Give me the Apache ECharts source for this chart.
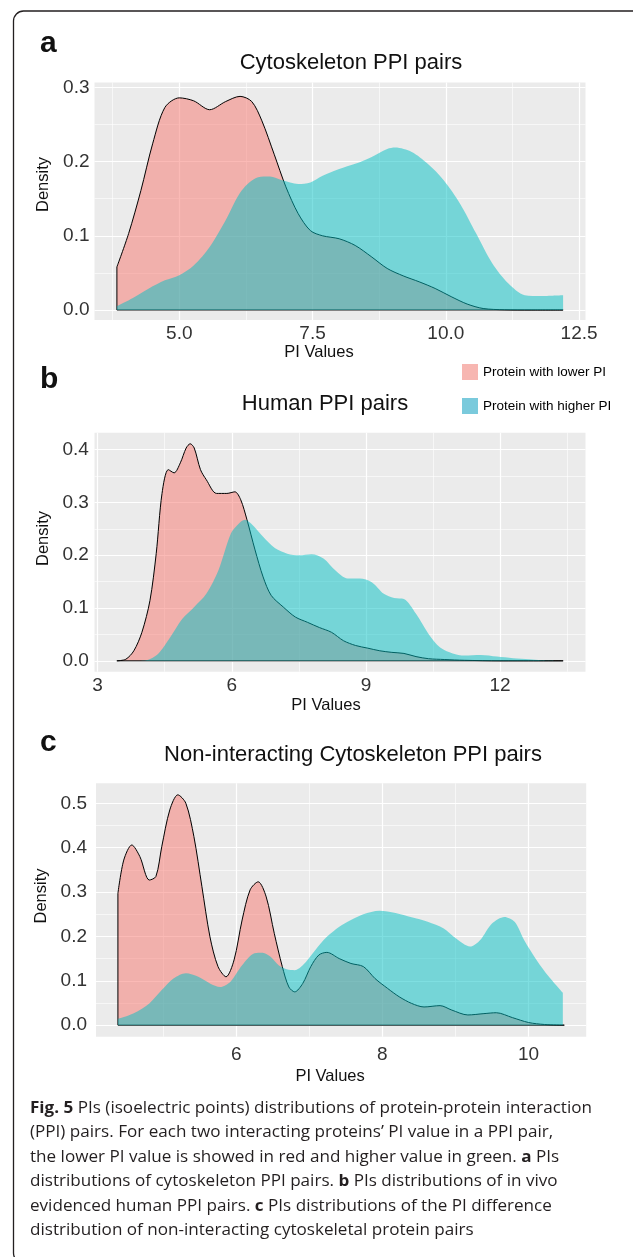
<!DOCTYPE html>
<html>
<head>
<meta charset="utf-8">
<script src="https://cdn.jsdelivr.net/npm/echarts@6/dist/echarts.min.js"></script>
<style>
html,body{margin:0;padding:0;background:#fff;}
#chart{width:633px;height:1257px;}
</style>
</head>
<body>
<div id="chart"></div>
<script>
// ---------- Panel a: Cytoskeleton PPI pairs ----------
const aLowX  = [3.83, 4.05, 4.28, 4.5, 4.73, 5.0, 5.27, 5.57, 5.87, 6.14, 6.36, 6.55, 6.78, 7.0, 7.23, 7.46, 7.69, 8.0, 8.3, 8.6, 8.9, 9.2, 9.5, 9.8, 10.1, 10.4, 10.7, 11.1, 11.6, 12.2];
const aLowY  = [0.058, 0.103, 0.161, 0.224, 0.273, 0.286, 0.282, 0.270, 0.281, 0.288, 0.281, 0.255, 0.21, 0.166, 0.13, 0.107, 0.10, 0.096, 0.087, 0.072, 0.056, 0.046, 0.038, 0.029, 0.018, 0.008, 0.002, 0.0003, 0, 0];
const aHighX = [3.83, 4.13, 4.43, 4.73, 5.0, 5.27, 5.57, 5.87, 6.17, 6.48, 6.7, 6.93, 7.23, 7.46, 7.69, 8.0, 8.3, 8.6, 8.9, 9.05, 9.36, 9.66, 9.96, 10.27, 10.57, 10.87, 11.17, 11.48, 11.78, 12.2];
const aHighY = [0.005, 0.016, 0.029, 0.04, 0.047, 0.06, 0.085, 0.121, 0.161, 0.179, 0.180, 0.175, 0.17, 0.172, 0.181, 0.19, 0.197, 0.206, 0.217, 0.219, 0.213, 0.197, 0.175, 0.143, 0.103, 0.063, 0.036, 0.02, 0.019, 0.02];
const aXTicks = [5.0, 7.5, 10.0, 12.5];
const aXMinor = [3.75, 6.25, 8.75, 11.25];
const aYTicks = [0, 0.1, 0.2, 0.3];
const aYMinor = [0.05, 0.15, 0.25];

// ---------- Panel b: Human PPI pairs ----------
const bLowX  = [3.43, 3.63, 3.81, 3.99, 4.17, 4.31, 4.44, 4.58, 4.71, 4.85, 4.98, 5.07, 5.16, 5.3, 5.43, 5.66, 5.89, 6.07, 6.2, 6.34, 6.52, 6.7, 6.88, 7.15, 7.42, 7.69, 7.96, 8.23, 8.5, 8.77, 9.04, 9.31, 9.58, 9.85, 10.12, 10.4, 10.75, 11.2, 12.0, 13.41];
const bLowY  = [0, 0.003, 0.019, 0.054, 0.114, 0.203, 0.317, 0.362, 0.356, 0.375, 0.403, 0.411, 0.403, 0.362, 0.343, 0.317, 0.317, 0.32, 0.305, 0.267, 0.21, 0.159, 0.124, 0.102, 0.083, 0.073, 0.063, 0.054, 0.038, 0.029, 0.024, 0.019, 0.016, 0.014, 0.008, 0.004, 0.0025, 0.001, 0, 0];
const bHighX = [3.81, 4.08, 4.35, 4.62, 4.89, 5.16, 5.43, 5.7, 5.98, 6.16, 6.29, 6.43, 6.7, 6.97, 7.24, 7.51, 7.78, 8.05, 8.32, 8.59, 8.86, 9.13, 9.4, 9.63, 9.85, 10.12, 10.4, 10.66, 10.94, 11.2, 11.57, 11.93, 12.29, 12.65, 12.92, 13.41];
const bHighY = [0, 0.001, 0.013, 0.044, 0.079, 0.102, 0.127, 0.171, 0.241, 0.26, 0.267, 0.26, 0.235, 0.213, 0.203, 0.2, 0.202, 0.194, 0.171, 0.156, 0.156, 0.149, 0.127, 0.119, 0.117, 0.089, 0.051, 0.025, 0.014, 0.01, 0.011, 0.008, 0.005, 0.003, 0.001, 0];
const bXTicks = [3, 6, 9, 12];
const bXMinor = [4.5, 7.5, 10.5, 13.5];
const bYTicks = [0, 0.1, 0.2, 0.3, 0.4];
const bYMinor = [0.05, 0.15, 0.25, 0.35];

// ---------- Panel c: Non-interacting Cytoskeleton PPI pairs ----------
const cLowX  = [4.38, 4.46, 4.57, 4.68, 4.81, 4.9, 4.98, 5.09, 5.2, 5.31, 5.42, 5.53, 5.64, 5.75, 5.86, 5.97, 6.08, 6.19, 6.3, 6.41, 6.52, 6.63, 6.72, 6.8, 6.91, 7.02, 7.13, 7.24, 7.41, 7.57, 7.74, 7.9, 8.07, 8.23, 8.4, 8.57, 8.79, 8.95, 9.17, 9.39, 9.56, 9.78, 10.0, 10.22, 10.49];
const cLowY  = [0.297, 0.372, 0.406, 0.38, 0.327, 0.335, 0.402, 0.485, 0.519, 0.5, 0.425, 0.312, 0.199, 0.132, 0.109, 0.147, 0.237, 0.305, 0.323, 0.289, 0.207, 0.132, 0.086, 0.075, 0.094, 0.132, 0.158, 0.164, 0.15, 0.139, 0.132, 0.105, 0.083, 0.064, 0.049, 0.041, 0.044, 0.034, 0.023, 0.026, 0.028, 0.017, 0.006, 0.0015, 0];
const cHighX = [4.38, 4.59, 4.81, 4.98, 5.14, 5.31, 5.48, 5.64, 5.78, 5.92, 6.08, 6.25, 6.36, 6.47, 6.58, 6.69, 6.8, 6.91, 7.08, 7.24, 7.41, 7.57, 7.74, 7.96, 8.18, 8.4, 8.62, 8.84, 9.01, 9.2, 9.34, 9.5, 9.67, 9.81, 9.94, 10.11, 10.28, 10.47];
const cHighY = [0.014, 0.026, 0.049, 0.079, 0.105, 0.117, 0.109, 0.094, 0.086, 0.098, 0.135, 0.162, 0.163, 0.154, 0.135, 0.126, 0.124, 0.135, 0.169, 0.199, 0.222, 0.237, 0.25, 0.258, 0.253, 0.243, 0.233, 0.218, 0.195, 0.177, 0.192, 0.229, 0.244, 0.233, 0.192, 0.147, 0.109, 0.073];
const cXTicks = [6, 8, 10];
const cXMinor = [5, 7, 9];
const cYTicks = [0, 0.1, 0.2, 0.3, 0.4, 0.5];
const cYMinor = [0.05, 0.15, 0.25, 0.35, 0.45];

const seriesNames = ['Protein with lower PI', 'Protein with higher PI'];
const panelTitles = ['Cytoskeleton PPI pairs', 'Human PPI pairs', 'Non-interacting Cytoskeleton PPI pairs'];
const panelLetters = ['a', 'b', 'c'];
const captionLines = [
  '{b|Fig. 5} PIs (isoelectric points) distributions of protein-protein interaction',
  '(PPI) pairs. For each two interacting proteins\u2019 PI value in a PPI pair,',
  'the lower PI value is showed in red and higher value in green. {b|a} PIs',
  'distributions of cytoskeleton PPI pairs. {b|b} PIs distributions of in vivo',
  'evidenced human PPI pairs. {b|c} PIs distributions of the PI difference',
  'distribution of non-interacting cytoskeletal protein pairs'
];

// ---------- layout / style ----------
const FONT = '"Liberation Sans", Arial, Helvetica, sans-serif';
const CAP_FONT = '"Open Sans", "Noto Sans", sans-serif';
const RED_FILL = 'rgba(248,118,109,0.5)';
const CYAN_FILL = 'rgba(0,191,196,0.5)';
const zip = (xs, ys) => xs.map((x, i) => [x, ys[i]]);

const panels = [
  { grid: {left: 94.5, top: 82.5, width: 491, height: 237.5}, xr: [3.41, 12.62], yr: [-0.0135, 0.3067],
    xT: aXTicks, xM: aXMinor, yT: aYTicks, yM: aYMinor, xDec: 1, low: [aLowX, aLowY], high: [aHighX, aHighY],
    xMargin: 4.5, yMargin: 5, xNameGap: 19.7, yNameGap: 39.8, xPad: 42, yPad: 33.5,
    title: [351, 62.5], letter: [40, 44] },
  { grid: {left: 94.5, top: 432.7, width: 491, height: 239}, xr: [2.93, 13.91], yr: [-0.0206, 0.432],
    xT: bXTicks, xM: bXMinor, yT: bYTicks, yM: bYMinor, xDec: 0, low: [bLowX, bLowY], high: [bHighX, bHighY],
    xMargin: 5, yMargin: 5.7, xNameGap: 22, yNameGap: 39.8, xPad: 28, yPad: 27.4,
    title: [325, 403.7], letter: [40, 380] },
  { grid: {left: 96, top: 783.3, width: 490.2, height: 253.4}, xr: [4.08, 10.79], yr: [-0.026, 0.545],
    xT: cXTicks, xM: cXMinor, yT: cYTicks, yM: cYMinor, xDec: 0, low: [cLowX, cLowY], high: [cHighX, cHighY],
    xMargin: 9, yMargin: 9, xNameGap: 31, yNameGap: 41.4, xPad: 22, yPad: 28,
    title: [353, 755], letter: [40, 743] }
];

const grids = [], xAxes = [], yAxes = [], series = [], graphics = [];
panels.forEach((p, i) => {
  grids.push(Object.assign({show: true, backgroundColor: '#EBEBEB', borderWidth: 0}, p.grid));
  const labelStyle = {color: '#333333', fontSize: 19, fontFamily: FONT};
  xAxes.push({
    type: 'value', gridIndex: i, min: p.xr[0], max: p.xr[1],
    axisLine: {show: false}, axisTick: {show: false, customValues: p.xT},
    axisLabel: Object.assign({customValues: p.xT, margin: p.xMargin, formatter: v => v.toFixed(p.xDec)}, labelStyle),
    splitLine: {show: true, lineStyle: {color: '#FFFFFF', width: 1.2}},
    name: 'PI Values', nameLocation: 'middle', nameGap: p.xNameGap,
    nameTextStyle: {color: '#111', fontSize: 16.5, fontFamily: FONT, padding: [0, p.xPad, 0, 0]}
  });
  xAxes.push({
    type: 'value', gridIndex: i, min: p.xr[0], max: p.xr[1], position: 'bottom',
    axisLine: {show: false}, axisTick: {show: false, customValues: p.xM}, axisLabel: {show: false, customValues: p.xM},
    splitLine: {show: true, lineStyle: {color: '#FFFFFF', width: 0.6}}
  });
  yAxes.push({
    type: 'value', gridIndex: i, min: p.yr[0], max: p.yr[1],
    axisLine: {show: false}, axisTick: {show: false, customValues: p.yT},
    axisLabel: Object.assign({customValues: p.yT, margin: p.yMargin, formatter: v => v.toFixed(1)}, labelStyle),
    splitLine: {show: true, lineStyle: {color: '#FFFFFF', width: 1.2}},
    name: 'Density', nameLocation: 'middle', nameGap: p.yNameGap,
    nameTextStyle: {color: '#111', fontSize: 16.5, fontFamily: FONT, padding: [0, 0, 0, p.yPad]}
  });
  yAxes.push({
    type: 'value', gridIndex: i, min: p.yr[0], max: p.yr[1], position: 'left',
    axisLine: {show: false}, axisTick: {show: false, customValues: p.yM}, axisLabel: {show: false, customValues: p.yM},
    splitLine: {show: true, lineStyle: {color: '#FFFFFF', width: 0.6}}
  });
  const lowData = zip(p.low[0], p.low[1]);
  const highData = zip(p.high[0], p.high[1]);
  const x0 = p.low[0][0], y0 = p.low[1][0], xEnd = Math.max(p.low[0][p.low[0].length - 1], p.high[0][p.high[0].length - 1]);
  series.push({
    type: 'line', name: seriesNames[0], xAxisIndex: 2 * i, yAxisIndex: 2 * i, data: lowData,
    smooth: 0.3, symbol: 'none', silent: true, z: 2,
    lineStyle: {color: '#000000', width: 1}, areaStyle: {color: RED_FILL, opacity: 1},
    itemStyle: {color: '#F7B6B1'}
  });
  series.push({
    type: 'line', name: 'outline', xAxisIndex: 2 * i, yAxisIndex: 2 * i,
    data: [[x0, y0], [x0, 0], [xEnd, 0]], symbol: 'none', silent: true, z: 2,
    lineStyle: {color: '#000000', width: 1}
  });
  series.push({
    type: 'line', name: seriesNames[1], xAxisIndex: 2 * i, yAxisIndex: 2 * i, data: highData,
    smooth: 0.3, symbol: 'none', silent: true, z: 3,
    lineStyle: {width: 0, opacity: 0}, areaStyle: {color: CYAN_FILL, opacity: 1},
    itemStyle: {color: '#7ACADC'}
  });
  graphics.push({
    type: 'text', x: p.title[0], y: p.title[1],
    style: {text: panelTitles[i], fill: '#111', fontSize: 22, fontFamily: FONT, textAlign: 'center', textVerticalAlign: 'middle'}
  });
  graphics.push({
    type: 'text', x: p.letter[0], y: p.letter[1],
    style: {text: panelLetters[i], fill: '#111', fontSize: 30, fontWeight: 'bold', fontFamily: FONT, textAlign: 'left', textVerticalAlign: 'middle'}
  });
});

// caption: horizontal scale so line 1 spans the measured width (x 30 -> 592)
const ctx = document.createElement('canvas').getContext('2d');
ctx.font = 'bold 16px "Open Sans"';
const wb = ctx.measureText('Fig. 5').width;
ctx.font = '16px "Open Sans"';
const wr = ctx.measureText(' PIs (isoelectric points) distributions of protein-protein interaction').width;
const capScale = 562 / (wb + wr);
const capY = [1108, 1132.5, 1157, 1181.5, 1206, 1230.5];
captionLines.forEach((t, k) => {
  graphics.push({
    type: 'text', x: 30, y: capY[k], scaleX: capScale,
    style: {
      text: t, fill: '#231F20', fontSize: 16, fontFamily: CAP_FONT, textAlign: 'left', textVerticalAlign: 'middle',
      rich: {b: {fontSize: 16, fontFamily: CAP_FONT, fontWeight: 'bold', fill: '#231F20'}}
    }
  });
});
graphics.push({
  type: 'rect', z: -1, shape: {x: 13.5, y: 11, width: 640, height: 1252, r: 10},
  style: {fill: 'none', stroke: '#231F20', lineWidth: 1.3}
});

const chart = echarts.init(document.getElementById('chart'), null, {renderer: 'canvas'});
chart.setOption({
  animation: false,
  backgroundColor: '#FFFFFF',
  grid: grids,
  xAxis: xAxes,
  yAxis: yAxes,
  legend: {
    data: seriesNames, orient: 'vertical', left: 457, top: 359, itemWidth: 16, itemHeight: 16, itemGap: 18,
    icon: 'rect', selectedMode: false, itemStyle: {borderWidth: 0},
    textStyle: {color: '#000', fontSize: 13.5, fontFamily: FONT}
  },
  series: series,
  graphic: graphics
});
</script>
</body>
</html>
